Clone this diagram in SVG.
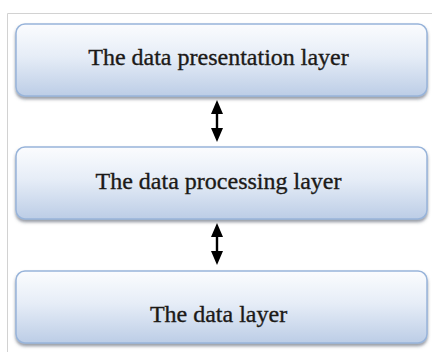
<svg xmlns="http://www.w3.org/2000/svg" width="432" height="352" viewBox="0 0 432 352">
  <defs>
    <linearGradient id="g" x1="0" y1="0" x2="0" y2="1">
      <stop offset="0" stop-color="#fbfcfe"/>
      <stop offset="0.45" stop-color="#e6edf7"/>
      <stop offset="1" stop-color="#bccde6"/>
    </linearGradient>
    <filter id="sh" x="-5%" y="-10%" width="110%" height="130%">
      <feDropShadow dx="0" dy="2.5" stdDeviation="1.5" flood-color="#404a5a" flood-opacity="0.55"/>
    </filter>
  </defs>
  <style>
    .box { fill: url(#g); stroke: #98b4da; stroke-width: 1.5; filter: url(#sh); }
    .lbl { font-family: "Liberation Serif", "DejaVu Serif", serif; font-size: 24px; fill: #1c1a18; stroke: #1c1a18; stroke-width: 0.35; text-anchor: middle; }
    .arr { fill: #000; }
    .frame { stroke: #d2d2d2; stroke-width: 1; fill: none; }
  </style>
  <rect width="432" height="352" fill="#fff"/>
  <path class="frame" d="M7.5 352 V13.5 H432"/>
  <g id="connectors">
    <path class="arr" d="M217 100 L223 114 L218.2 114 L218.2 128 L223 128 L217 142 L211 128 L215.8 128 L215.8 114 L211 114 Z"/>
    <path class="arr" d="M217 223 L223 237 L218.2 237 L218.2 251 L223 251 L217 265 L211 251 L215.8 251 L215.8 237 L211 237 Z"/>
  </g>
  <g id="presentation">
    <rect class="box" x="16" y="24" width="411" height="72" rx="9"/>
    <text class="lbl" x="218.5" y="65">The data presentation layer</text>
  </g>
  <g id="processing">
    <rect class="box" x="16" y="147" width="411" height="72" rx="9"/>
    <text class="lbl" x="218.5" y="189">The data processing layer</text>
  </g>
  <g id="data">
    <rect class="box" x="16" y="271" width="411" height="72" rx="9"/>
    <text class="lbl" x="218.5" y="322">The data layer</text>
  </g>
</svg>
